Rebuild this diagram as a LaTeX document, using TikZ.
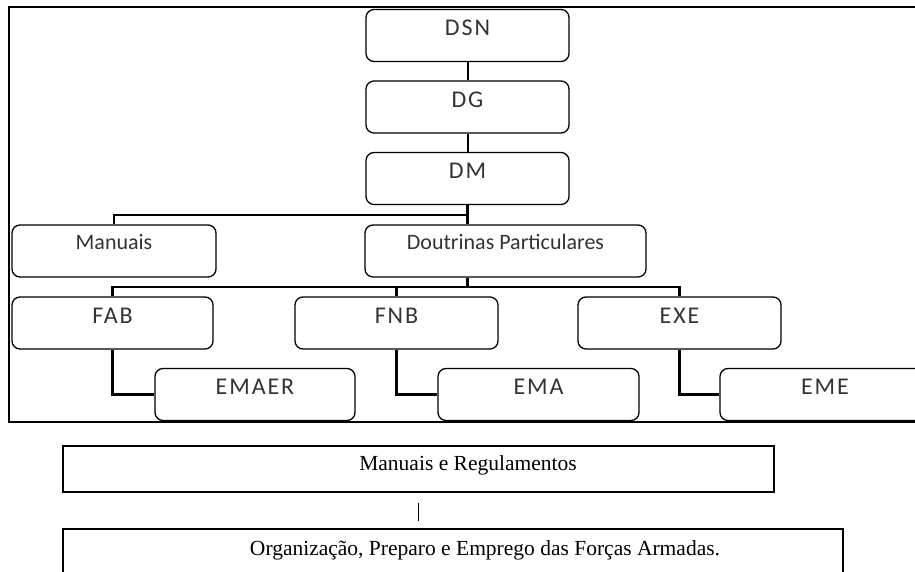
\documentclass[tikz,border=0pt]{standalone}
\usepackage{fontspec}
\setmainfont{Liberation Serif}
\newfontfamily\boxfont{Carlito}
\newfontfamily\capfont[LetterSpace=8]{Carlito}
\definecolor{txtgray}{HTML}{333333}
\begin{document}
\begin{tikzpicture}[x=1pt,y=-1pt,
  box/.style={draw=black, fill=white, line width=1.3pt, rounded corners=8pt,
              minimum width=#1, minimum height=52pt, inner sep=0pt},
  captxt/.style={font=\capfont\fontsize{24}{28}\selectfont, text=txtgray, inner sep=0pt},
  lowtxt/.style={font=\boxfont\fontsize{22}{26}\selectfont, text=txtgray, inner sep=0pt},
  serif/.style={font=\fontsize{21.5}{26}\selectfont, text=black, inner sep=0pt, anchor=base},
  link/.style={line width=2pt},
  branch/.style={line width=2.6pt},
  frame/.style={line width=2.5pt},
  plainbox/.style={draw=black, line width=1.2pt, inner sep=0pt}]
\useasboundingbox (0,0) rectangle (915,572);
\clip (0,0) rectangle (915,572);
% outer frame
\draw[frame] (915,7) -- (9,7) -- (9,422) -- (915,422);
% connectors
\coordinate (j1) at (467.5,215);
\coordinate (j2) at (467.5,287);
\path (467.5,35.5) coordinate (c0);
% boxes
\node[box=203pt] (dsn) at (467.5,35.5) {};
\node[box=203pt] (dg) at (467.5,107) {};
\node[box=203pt] (dm) at (467.5,178.5) {};
\node[box=204pt] (man) at (114,251) {};
\node[box=281pt] (dout) at (505.5,251) {};
\node[box=201pt] (fab) at (112.5,323) {};
\node[box=203pt] (fnb) at (396.5,323) {};
\node[box=203pt] (exe) at (679.5,323) {};
\node[box=200pt] (emaer) at (255,394.5) {};
\node[box=201pt] (ema) at (538.5,394.5) {};
\node[box=210pt] (eme) at (825,394.5) {};
% connector lines
\draw[link] (dsn.south) -- (dg.north);
\draw[link] (dg.south) -- (dm.north);
\draw[branch] (dm.south) -- (j1);
\draw[branch] (j1) -| (man.north);
\draw[branch] (j1) -- (j1 |- dout.north);
\draw[branch] (j1 |- dout.south) -- (j2);
\draw[branch] (j2) -| (fab.north);
\draw[branch] (j2) -| (exe.north);
\draw[branch] (fnb.north |- j2) -- (fnb.north);
\draw[branch] (fab.south) |- (emaer.west);
\draw[branch] (fnb.south) |- (ema.west);
\draw[branch] (exe.south) |- (eme.west);
% labels
\node[captxt] (dsn-t) at ([yshift=-19pt]dsn.north) {DSN};
\node[captxt] (dg-t) at ([yshift=-19pt]dg.north) {DG};
\node[captxt] (dm-t) at ([yshift=-19pt]dm.north) {DM};
\node[lowtxt] (man-t) at ([yshift=-18pt]man.north) {Manuais};
\node[lowtxt] (dout-t) at ([yshift=-18pt]dout.north) {Doutrinas Particulares};
\node[captxt] (fab-t) at ([yshift=-19pt]fab.north) {FAB};
\node[captxt] (fnb-t) at ([yshift=-19pt]fnb.north) {FNB};
\node[captxt] (exe-t) at ([yshift=-19pt]exe.north) {EXE};
\node[captxt] (emaer-t) at ([yshift=-19pt]emaer.north) {EMAER};
\node[captxt] (ema-t) at ([yshift=-19pt]ema.north) {EMA};
\node[captxt] (eme-t) at ([yshift=-19pt]eme.north) {EME};
% bottom part
\node[plainbox, minimum width=711pt, minimum height=46pt] (mr) at (418.5,469) {};
\node[plainbox, minimum width=780pt, minimum height=60pt] (ope) at (453,559) {};
\node[serif] (mr-t) at (468,470) {Manuais e Regulamentos};
\node[serif] (ope-t) at (485,555) {Organização, Preparo e Emprego das Forças Armadas.};
\draw[line width=1.8pt, shorten <=10pt, shorten >=7pt] (mr.south) -- (mr.south |- ope.north);
\end{tikzpicture}
\end{document}
